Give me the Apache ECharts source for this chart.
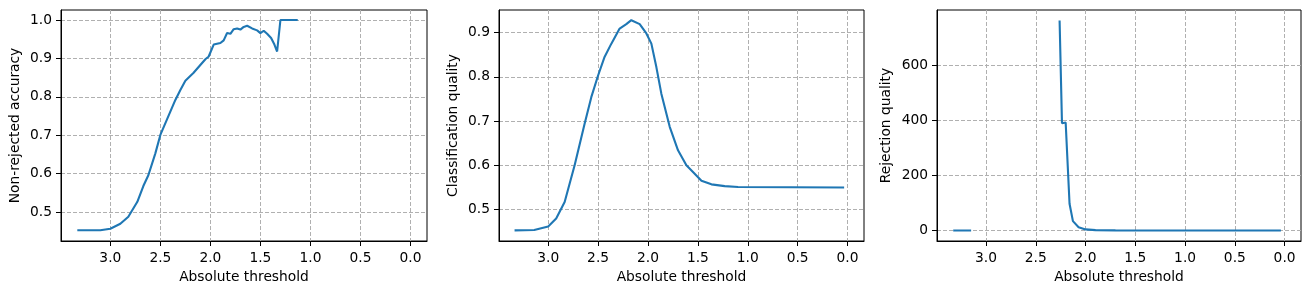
<!DOCTYPE html>
<html>
<head>
<meta charset="utf-8">
<script src="https://cdn.jsdelivr.net/npm/echarts@6/dist/echarts.min.js"></script>
<style>
  body { margin: 0; background: #fff; }
  #chart { width: 1311px; height: 294px; }
</style>
</head>
<body>
<div id="chart"></div>
<script>
// 横轴刻度（阈值，反向）
const xTicks = [3.0, 2.5, 2.0, 1.5, 1.0, 0.5, 0.0]

// 图1 Non-rejected accuracy
const thr1 = [3.33, 3.10, 3.00, 2.90, 2.82, 2.73, 2.67, 2.62, 2.55, 2.50, 2.35, 2.30, 2.25, 2.17, 2.05, 2.017, 1.967, 1.90, 1.867, 1.833, 1.80, 1.767, 1.733, 1.70, 1.667, 1.633, 1.583, 1.533, 1.50, 1.467, 1.433, 1.393, 1.36, 1.333, 1.30, 1.127]
const accuracy = [0.453, 0.453, 0.457, 0.470, 0.488, 0.527, 0.568, 0.596, 0.653, 0.701, 0.792, 0.818, 0.842, 0.862, 0.898, 0.905, 0.936, 0.940, 0.947, 0.966, 0.964, 0.976, 0.978, 0.975, 0.982, 0.985, 0.978, 0.973, 0.966, 0.972, 0.964, 0.953, 0.936, 0.918, 1.0, 1.0]
const yTicks1 = [0.5, 0.6, 0.7, 0.8, 0.9, 1.0]

// 图2 Classification quality
const thr2 = [3.337, 3.14, 3.00, 2.92, 2.835, 2.735, 2.635, 2.568, 2.50, 2.435, 2.367, 2.284, 2.217, 2.167, 2.083, 2.016, 1.966, 1.916, 1.866, 1.782, 1.699, 1.615, 1.532, 1.464, 1.364, 1.231, 1.097, 0.034]
const classQuality = [0.453, 0.454, 0.462, 0.480, 0.517, 0.600, 0.694, 0.754, 0.803, 0.845, 0.875, 0.909, 0.919, 0.928, 0.919, 0.898, 0.875, 0.822, 0.762, 0.687, 0.634, 0.600, 0.581, 0.565, 0.557, 0.553, 0.551, 0.550]
const yTicks2 = [0.5, 0.6, 0.7, 0.8, 0.9]

// 图3 Rejection quality（null 处断开）
const thr3 = [3.33, 3.15, 3.14, 2.261, 2.237, 2.20, 2.161, 2.127, 2.07, 2.0, 1.9, 1.7, 0.037]
const rejQuality = [0, 0, null, 762, 389, 392, 97, 34, 12, 4, 1.5, 0.5, 0]
const yTicks3 = [0, 200, 400, 600]

const font = 'DejaVu Sans'
const fs = 13.8
const gridLine = { show: true, lineStyle: { color: '#b0b0b0', width: 1, type: [4, 2] } }

function xAxisOf(i) {
  return {
    type: 'value',
    gridIndex: i,
    inverse: true,
    min: -0.165,
    max: 3.493,
    name: 'Absolute threshold',
    nameLocation: 'middle',
    nameGap: 29,
    nameTextStyle: { color: '#000', fontFamily: font, fontSize: fs },
    axisLine: { show: true, onZero: false, lineStyle: { color: '#000', width: 1 } },
    axisTick: { show: true, length: 5, lineStyle: { color: '#000' }, customValues: xTicks },
    axisLabel: { color: '#000', fontFamily: font, fontSize: fs, margin: 10, customValues: xTicks, formatter: v => v.toFixed(1) },
    splitLine: gridLine
  }
}

function yAxisOf(i, name, min, max, ticks, fmt, gap) {
  return {
    type: 'value',
    gridIndex: i,
    min: min,
    max: max,
    name: name,
    nameLocation: 'middle',
    nameGap: gap,
    nameTextStyle: { color: '#000', fontFamily: font, fontSize: fs },
    axisLine: { show: true, onZero: false, lineStyle: { color: '#000', width: 1 } },
    axisTick: { show: true, length: 5, lineStyle: { color: '#000' }, customValues: ticks },
    axisLabel: { color: '#000', fontFamily: font, fontSize: fs, margin: 9, customValues: ticks, formatter: fmt },
    splitLine: gridLine
  }
}

function lineOf(i, xs, ys) {
  return {
    type: 'line',
    xAxisIndex: i,
    yAxisIndex: i,
    showSymbol: false,
    connectNulls: false,
    lineStyle: { color: '#1f77b4', width: 2.1 },
    itemStyle: { color: '#1f77b4' },
    data: xs.map((x, k) => [x, ys[k] === null ? '-' : ys[k]])
  }
}

const myChart = echarts.init(document.querySelector('#chart'), null, { renderer: 'canvas' })
const option = {
  animation: false,
  backgroundColor: '#fff',
  grid: [
    { left: 61, top: 10, width: 366, height: 231, show: true, borderColor: '#000', borderWidth: 1 },
    { left: 499, top: 10, width: 365, height: 231, show: true, borderColor: '#000', borderWidth: 1 },
    { left: 937, top: 10, width: 364, height: 231, show: true, borderColor: '#000', borderWidth: 1 }
  ],
  xAxis: [xAxisOf(0), xAxisOf(1), xAxisOf(2)],
  yAxis: [
    yAxisOf(0, 'Non-rejected accuracy', 0.425, 1.026, yTicks1, v => v.toFixed(1), 39),
    yAxisOf(1, 'Classification quality', 0.429, 0.951, yTicks2, v => v.toFixed(1), 39),
    yAxisOf(2, 'Rejection quality', -38.1, 800, yTicks3, v => String(v), 44)
  ],
  series: [
    lineOf(0, thr1, accuracy),
    lineOf(1, thr2, classQuality),
    lineOf(2, thr3, rejQuality)
  ]
}
myChart.setOption(option)
</script>
</body>
</html>
